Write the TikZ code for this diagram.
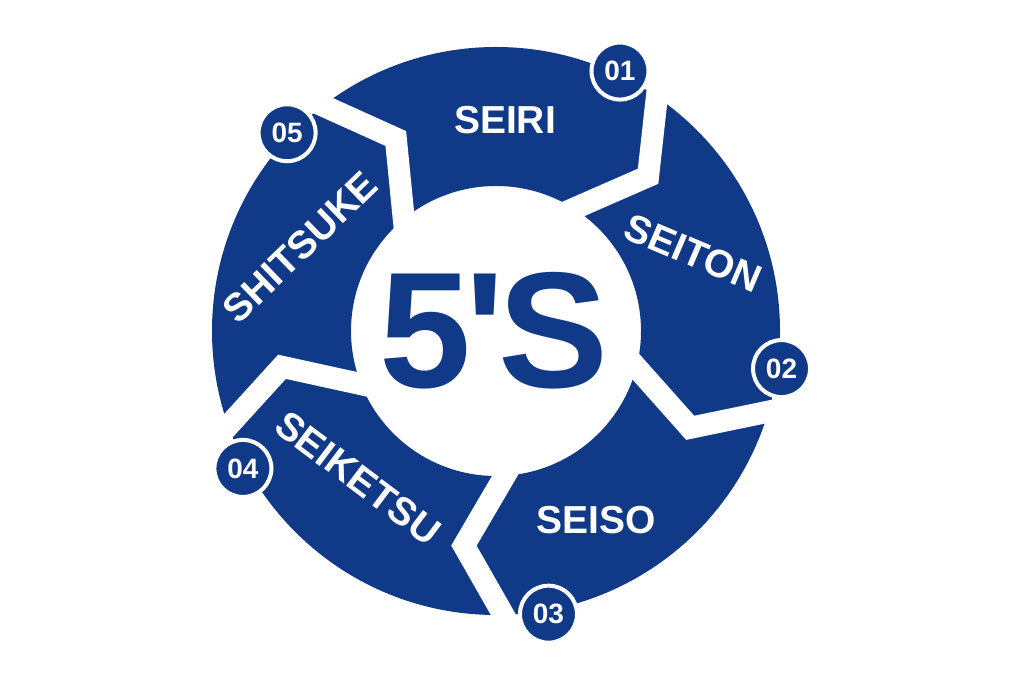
\documentclass[tikz,border=0pt]{standalone}
\usepackage{fontspec}
\setmainfont{Liberation Sans}
\usepackage{tikz}
\usetikzlibrary{calc}
\pgfdeclarelayer{background}
\pgfsetlayers{background,main}
\definecolor{fiveblue}{RGB}{16,57,135}

\begin{document}
\begin{tikzpicture}[x=1pt,y=1pt,
							numnode/.style={circle, draw=white, fill=fiveblue, line width=4pt, minimum size=57pt, inner sep=0pt, text=white, font=\bfseries\fontsize{28}{28}\selectfont},
							labelnode/.style={text=white, inner sep=0pt, font=\bfseries\fontsize{39}{39}\selectfont},
							gapline/.style={draw=white, line width=22pt, line join=miter, miter limit=10},
							]
							\useasboundingbox (0,0) rectangle (1024,682);
							\coordinate (c) at (496,351);
							%Nodes
							\node[text=fiveblue, inner sep=0pt, font=\bfseries\fontsize{165}{165}\selectfont] (title) at (494,351) {5\kern-6pt\textquotesingle\kern-6pt S};
							\node[labelnode]              (seiri)    at (505,562) {SEIRI};
							\node[labelnode, rotate=-23]  (seiton)   at (693,429) {SEITON};
							\node[labelnode]              (seiso)    at (596,162) {SEISO};
							\node[labelnode, rotate=-37]  (seiketsu) at (358,204) {SEIKETSU};
							\node[labelnode, rotate=44]   (shitsuke) at (300,435) {SHITSUKE};
							\node[numnode] (n1) at ($(c)+(64.5:288)$)   {01};
							\node[numnode] (n2) at ($(c)+(-7.5:288)$)   {02};
							\node[numnode] (n3) at ($(c)+(-79.5:288)$)  {03};
							\node[numnode] (n4) at ($(c)+(-151.5:288)$) {04};
							\node[numnode] (n5) at ($(c)+(136.5:288)$)  {05};

							\begin{pgfonlayer}{background}
							\begin{scope}[shift={(c)}]
							\fill[fiveblue, even odd rule] (0,0) circle (284) (0,0) circle (145);
							% white chevron gaps between the five steps
							\foreach \a in {127.5,55.5,-16.5,-88.5,-160.5}{
								\draw[gapline] ($(\a:284)!-0.5!(\a-10:217)$) -- (\a:284) -- (\a-10:217) -- (\a+2:145) -- ($(\a-10:217)!1.4!(\a+2:145)$);
							}
							\end{scope}
							\end{pgfonlayer}
						\end{tikzpicture}
\end{document}
